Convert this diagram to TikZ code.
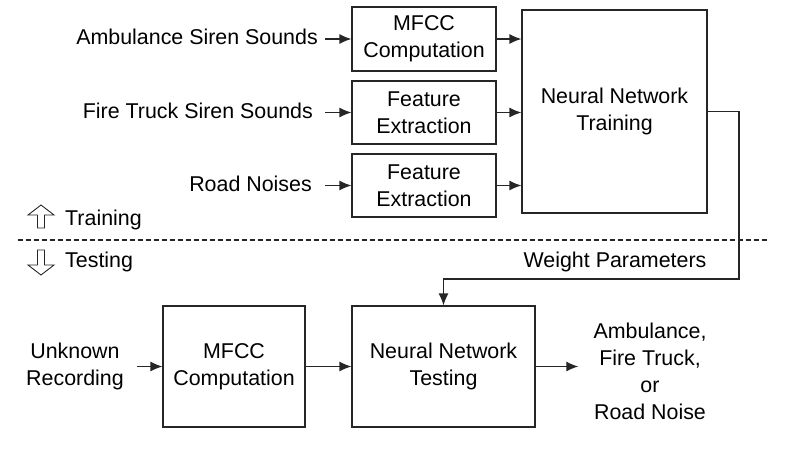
\documentclass[tikz,border=0pt]{standalone}
\usepackage{fontspec}
\setmainfont{Liberation Sans}
\usetikzlibrary{arrows.meta}

\tikzset{
  block/.style={draw=black!85, line width=1.2pt, align=center, inner sep=0pt},
  lbl/.style={inner sep=0pt, text height=15pt, text depth=4pt},
  link/.style={->, draw=black!85, line width=1.2pt},
}

\begin{document}
\begin{tikzpicture}[x=1pt, y=-1pt, >={Latex[length=12pt,width=10pt]},
    font=\fontsize{21.4}{27}\selectfont]
  \useasboundingbox (0,0) rectangle (802,450);

  % training part
  \node[block, minimum width=144, minimum height=64] (mfccA) at (424,39) {MFCC\\Computation};
  \node[block, minimum width=144, minimum height=63] (featB) at (424,112.5) {Feature\\Extraction};
  \node[block, minimum width=144, minimum height=63] (featC) at (424,185.5) {Feature\\Extraction};
  \node[block, minimum width=185, minimum height=203] (train) at (614.5,111.5) {Neural Network\\Training};

  \node[lbl, anchor=east] (amb) at (318,39) {Ambulance Siren Sounds};
  \node[lbl, anchor=east] (fire) at (313,112.5) {Fire Truck Siren Sounds};
  \node[lbl, anchor=east] (road) at (312,185.5) {Road Noises};

  \draw[link, shorten <=7pt] (amb) -- (mfccA);
  \draw[link, shorten <=12pt] (fire) -- (featB);
  \draw[link, shorten <=13pt] (road) -- (featC);

  \draw[link] (mfccA) -- (mfccA -| train.west);
  \draw[link] (featB) -- (featB -| train.west);
  \draw[link] (featC) -- (featC -| train.west);

  % split line
  \draw[black!85, line width=1.2pt, dash pattern=on 5pt off 3pt] (18,240) -- (768,240);
  \draw[black!85, line width=0.9pt] (41,205) -- (54,215) -- (44.5,215) -- (44.5,228)
    -- (37.5,228) -- (37.5,215) -- (28,215) -- cycle;
  \draw[black!85, line width=0.9pt] (41,275) -- (54,265) -- (44.5,265) -- (44.5,250)
    -- (37.5,250) -- (37.5,265) -- (28,265) -- cycle;
  \node[lbl, anchor=west] (trn) at (65,220) {Training};
  \node[lbl, anchor=west] (tst) at (65,262) {Testing};

  % testing part
  \node[block, minimum width=142, minimum height=121] (mfccT) at (234,366.5) {MFCC\\Computation};
  \node[block, minimum width=183, minimum height=121] (test) at (443.5,366.5) {Neural Network\\Testing};
  \node[align=center, inner xsep=13pt, inner ysep=0pt] (unk) at (75,366.5) {Unknown\\Recording};
  \node[align=center, inner xsep=15pt, inner ysep=0pt] (out) at (650,371) {Ambulance,\\Fire Truck,\\or\\Road Noise};

  \draw[link] (unk) -- (mfccT);
  \draw[link] (mfccT) -- (test);
  \draw[link] (test) -- (test -| out.west);

  % weights
  \coordinate (wturn) at (739,279);
  \draw[link] (train.east) -| (wturn) -| (test.north);
  \node[lbl] (wp) at (615,262) {Weight Parameters};
\end{tikzpicture}
\end{document}
